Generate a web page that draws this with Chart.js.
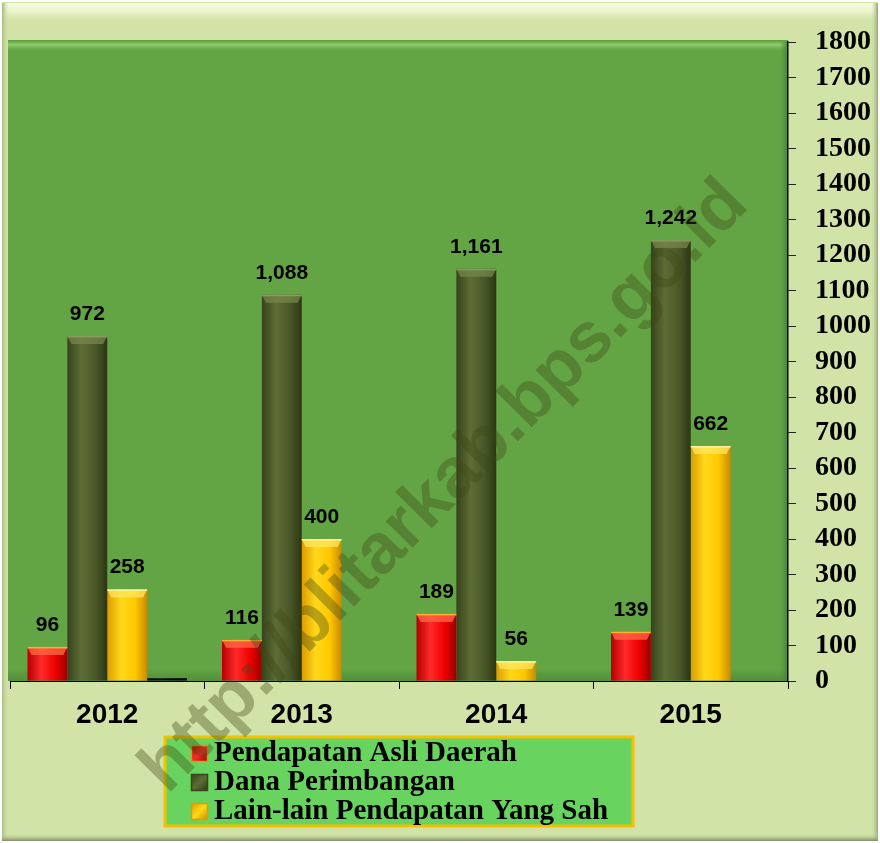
<!DOCTYPE html>
<html>
<head>
<meta charset="utf-8">
<script src="https://cdn.jsdelivr.net/npm/chart.js@4/dist/chart.umd.min.js"></script>
<style>
  html, body { margin: 0; padding: 0; background: #fff; }
  #wrap { width: 880px; height: 843px; }
</style>
</head>
<body>
<div id="wrap"><canvas id="c" width="880" height="843"></canvas></div>
<script>
// Data
const years = ['2012', '2013', '2014', '2015'];
const pendapatanAsli = [96, 116, 189, 139];
const danaPerimbangan = [972, 1088, 1161, 1242];
const lainLain = [258, 400, 56, 662];
const lainnya = [8, null, null, null];   // tiny unlabelled black bar in 2012
const seriesNames = ['Pendapatan Asli Daerah', 'Dana Perimbangan', 'Lain-lain Pendapatan Yang Sah'];
const yTicks = { min: 0, max: 1800, step: 100 };

const catPct = 0.82;

// horizontal "cylinder" shading for every bar
const shades = [
  ['#b40000', '#ff2a2a', '#f00000', '#9a0000'],
  ['#36431b', '#5d6d36', '#4a5828', '#2c3614'],
  ['#dc9c00', '#ffd81a', '#ffc800', '#c88a00'],
  ['#000000', '#111111', '#000000', '#000000']
];
const caps = ['#ff6a4a', '#76864c', '#ffe760', '#000000'];
const capLines = ['#ffb030', '#8a9a5e', '#fff09a', '#000000'];

function barFill(ds) {
  return (c) => {
    const chart = c.chart;
    const xs = chart.scales.x;
    const s = shades[ds];
    if (c.type !== 'data' || !xs || !xs.width) return s[2];
    const bw = xs.width / years.length * catPct / 4;
    const cx = xs.getPixelForValue(c.dataIndex) + (c.datasetIndex - 1.5) * bw;
    const g = chart.ctx.createLinearGradient(cx - bw / 2, 0, cx + bw / 2, 0);
    g.addColorStop(0, s[0]);
    g.addColorStop(0.35, s[1]);
    g.addColorStop(0.7, s[2]);
    g.addColorStop(1, s[3]);
    return g;
  };
}

// frame, plot background, bar caps, value labels, legend box, watermark
const decor = {
  id: 'decor',
  beforeDraw(chart) {
    const ctx = chart.ctx, W = chart.width, H = chart.height;
    const a = chart.chartArea;
    ctx.save();
    ctx.fillStyle = '#ffffff';
    ctx.fillRect(0, 0, W, H);
    ctx.fillStyle = '#d2e3a8';
    ctx.fillRect(2, 2, W - 4, H - 4);
    // top bevel
    let g = ctx.createLinearGradient(0, 3, 0, 24);
    g.addColorStop(0, '#f4fbe2');
    g.addColorStop(0.4, '#eaf6cd');
    g.addColorStop(1, 'rgba(210,227,168,0)');
    ctx.fillStyle = g;
    ctx.fillRect(4, 3, W - 8, 21);
    // left / right / bottom edges
    g = ctx.createLinearGradient(2, 0, 9, 0);
    g.addColorStop(0, '#a9bb86'); g.addColorStop(1, 'rgba(210,227,168,0)');
    ctx.fillStyle = g; ctx.fillRect(2, 3, 7, H - 6);
    g = ctx.createLinearGradient(W - 9, 0, W - 2, 0);
    g.addColorStop(0, 'rgba(210,227,168,0)'); g.addColorStop(1, '#93a577');
    ctx.fillStyle = g; ctx.fillRect(W - 9, 3, 7, H - 6);
    g = ctx.createLinearGradient(0, H - 10, 0, H - 2);
    g.addColorStop(0, 'rgba(210,227,168,0)'); g.addColorStop(1, '#7d8d62');
    ctx.fillStyle = g; ctx.fillRect(2, H - 10, W - 4, 8);

    // plot area
    ctx.fillStyle = '#63a545';
    ctx.fillRect(a.left - 2, a.top - 2, a.right - a.left + 2, a.bottom - a.top + 2);
    g = ctx.createLinearGradient(0, a.top - 2, 0, a.top + 10);
    g.addColorStop(0, '#5a9a3c');
    g.addColorStop(0.4, '#8fcd6c');
    g.addColorStop(1, 'rgba(99,165,69,0)');
    ctx.fillStyle = g;
    ctx.fillRect(a.left - 2, a.top - 2, a.right - a.left + 2, 12);
    g = ctx.createLinearGradient(0, a.bottom - 12, 0, a.bottom);
    g.addColorStop(0, 'rgba(80,140,55,0)'); g.addColorStop(1, '#52903a');
    ctx.fillStyle = g;
    ctx.fillRect(a.left - 2, a.bottom - 12, a.right - a.left + 2, 12);
    g = ctx.createLinearGradient(a.right - 8, 0, a.right, 0);
    g.addColorStop(0, 'rgba(80,140,55,0)'); g.addColorStop(1, '#4a8332');
    ctx.fillStyle = g;
    ctx.fillRect(a.right - 8, a.top, 8, a.bottom - a.top);
    ctx.restore();
  },
  afterDatasetsDraw(chart) {
    const ctx = chart.ctx;
    ctx.save();
    chart.data.datasets.forEach((ds, di) => {
      const meta = chart.getDatasetMeta(di);
      meta.data.forEach((el, i) => {
        const v = ds.data[i];
        if (v == null) return;
        const w = el.width;
        const h = Math.min(8, el.base - el.y);
        if (di < 3 && h > 0) {
          ctx.fillStyle = caps[di];
          ctx.globalAlpha = 0.75;
          ctx.beginPath();
          ctx.moveTo(el.x - w / 2, el.y);
          ctx.lineTo(el.x + w / 2, el.y);
          ctx.lineTo(el.x + w / 2 - 4, el.y + h);
          ctx.lineTo(el.x - w / 2 + 4, el.y + h);
          ctx.closePath();
          ctx.fill();
          ctx.globalAlpha = 1;
          ctx.fillStyle = capLines[di];
          ctx.fillRect(el.x - w / 2, el.y, w, 1.5);
        }
        if (di < 3) {
          ctx.fillStyle = '#000';
          ctx.font = 'bold 21px "Liberation Sans", Arial, sans-serif';
          ctx.textAlign = 'center';
          ctx.textBaseline = 'alphabetic';
          ctx.fillText(v.toLocaleString('en-US'), el.x, el.y - 16);
        }
      });
    });
    ctx.restore();
  },
  afterDraw(chart) {
    const ctx = chart.ctx, a = chart.chartArea;
    ctx.save();
    // legend
    ctx.font = 'bold 29px "Liberation Serif", "Times New Roman", serif';
    const tw = Math.max(...seriesNames.map(t => ctx.measureText(t).width));
    const bw = 26 + 17 + 6 + tw + 25;
    const bx = Math.round((a.left + a.right) / 2 - bw / 2);
    const by = chart.scales.x.bottom - 6;
    const bh = 89;
    ctx.fillStyle = '#69d35f';
    ctx.fillRect(bx, by, bw, bh);
    ctx.strokeStyle = '#f5c000';
    ctx.lineWidth = 3;
    ctx.strokeRect(bx, by, bw, bh);
    seriesNames.forEach((t, i) => {
      const cy = by + 16 + i * 29;
      const sx = bx + 26, sy = cy - 8;
      const s = shades[i];
      const g = ctx.createLinearGradient(sx, sy, sx + 17, sy + 17);
      g.addColorStop(0, s[0]); g.addColorStop(0.5, s[1]); g.addColorStop(1, s[3]);
      ctx.fillStyle = g;
      ctx.fillRect(sx, sy, 17, 17);
      ctx.strokeStyle = i === 1 ? '#3a4520' : '#d8a000';
      ctx.lineWidth = 1.5;
      ctx.strokeRect(sx + 0.5, sy + 0.5, 16, 16);
      ctx.fillStyle = '#000';
      ctx.textAlign = 'left';
      ctx.textBaseline = 'middle';
      ctx.fillText(t, sx + 17 + 6, cy + 1);
    });
    // watermark
    ctx.translate(445, 487);
    ctx.rotate(-0.79);
    ctx.font = 'bold 71px "Liberation Sans", Arial, sans-serif';
    ctx.fillStyle = 'rgba(60,70,20,0.36)';
    ctx.textAlign = 'center';
    ctx.textBaseline = 'middle';
    ctx.fillText('http://blitarkab.bps.go.id', 0, 0);
    ctx.restore();
  }
};

new Chart(document.getElementById('c').getContext('2d'), {
  type: 'bar',
  data: {
    labels: years,
    datasets: [
      { label: seriesNames[0], data: pendapatanAsli, backgroundColor: barFill(0) },
      { label: seriesNames[1], data: danaPerimbangan, backgroundColor: barFill(1) },
      { label: seriesNames[2], data: lainLain, backgroundColor: barFill(2) },
      { label: '', data: lainnya, backgroundColor: barFill(3) }
    ]
  },
  options: {
    responsive: false,
    animation: false,
    categoryPercentage: catPct,
    barPercentage: 1,
    layout: { padding: { left: 10, top: 42, right: 0, bottom: 100 } },
    plugins: { legend: { display: false }, tooltip: { enabled: false } },
    scales: {
      x: {
        offset: true,
        afterFit: s => { s.height = 62; },
        grid: { offset: true, drawOnChartArea: false, tickLength: 8, color: '#000', tickColor: '#000' },
        border: { color: '#000', width: 1 },
        ticks: { color: '#000', padding: 9, font: { family: '"Liberation Sans", Arial, sans-serif', weight: 'bold', size: 28 } }
      },
      y: {
        position: 'right',
        min: yTicks.min,
        max: yTicks.max,
        afterFit: s => { s.width = 92; },
        grid: { drawOnChartArea: false, tickLength: 8, tickColor: '#222' },
        border: { color: '#000', width: 1.5 },
        ticks: {
          stepSize: yTicks.step,
          autoSkip: false,
          callback: v => String(v),
          color: '#000',
          padding: 19,
          font: { family: '"Liberation Serif", "Times New Roman", serif', weight: 'bold', size: 28, lineHeight: 1 }
        }
      }
    }
  },
  plugins: [decor]
});
</script>
</body>
</html>
